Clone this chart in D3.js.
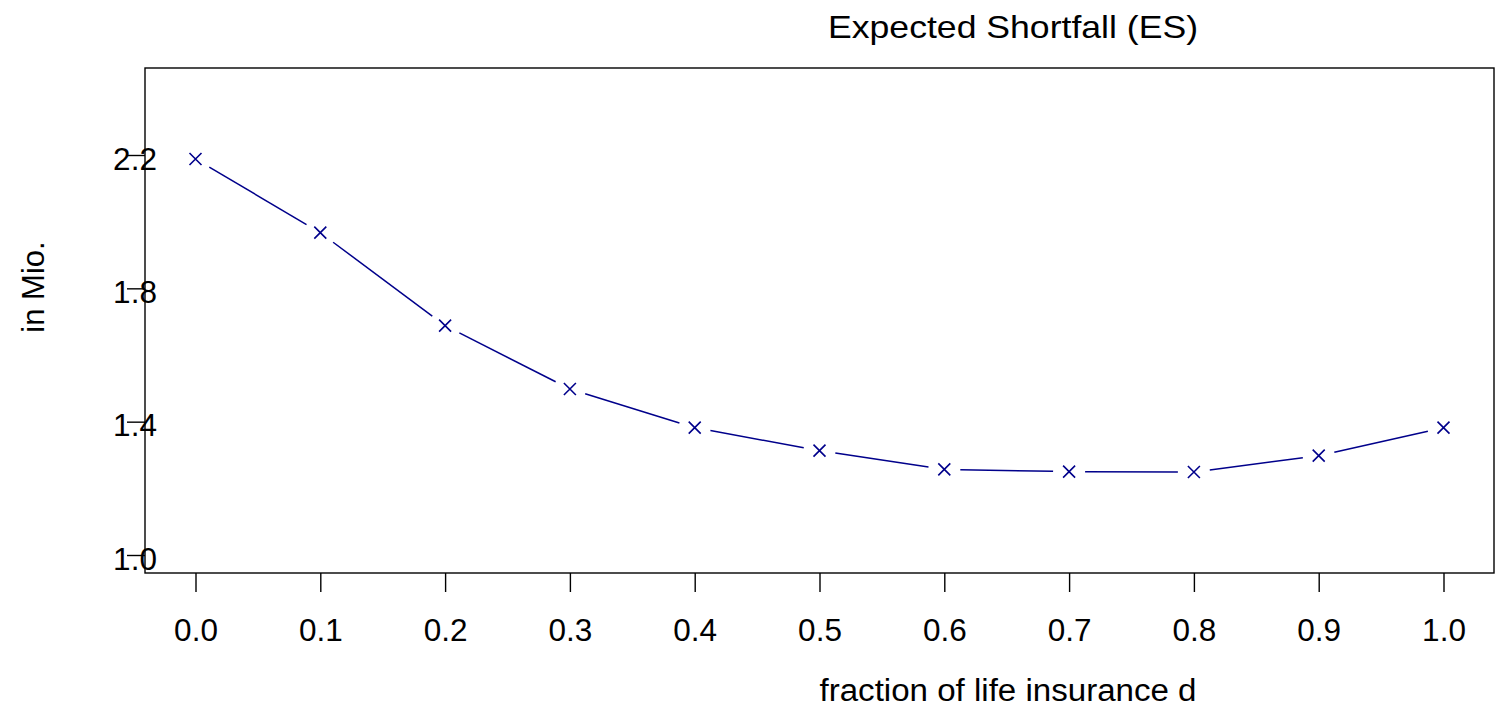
<!DOCTYPE html>
<html>
<head>
<meta charset="utf-8">
<script src="https://cdn.jsdelivr.net/npm/d3@7"></script>
<style>
  html, body { margin: 0; padding: 0; background: #fff; }
  svg { display: block; font-family: "Liberation Sans", Arial, sans-serif; }
</style>
</head>
<body>
<svg id="chart" width="1507" height="713"></svg>
<script>
// Fraction of life insurance in the portfolio
const fractions = [0.0, 0.1, 0.2, 0.3, 0.4, 0.5, 0.6, 0.7, 0.8, 0.9, 1.0];
// Expected Shortfall, in millions
const esValues = [2.188, 1.967, 1.688, 1.498, 1.382, 1.313, 1.257, 1.250, 1.249, 1.298, 1.382];
const xTicks = [0.0, 0.1, 0.2, 0.3, 0.4, 0.5, 0.6, 0.7, 0.8, 0.9, 1.0];
const yTicks = [1.0, 1.4, 1.8, 2.2];

const svg = d3.select("#chart");
const box = { left: 145, right: 1494, top: 68, bottom: 573 };

const x = d3.scaleLinear().domain([0, 1]).range([195.5, 1443.5]);
const y = d3.scaleLinear().domain([1.0, 2.2]).range([555, 155]);

const ink = "#000";
const navy = "#00008b";
const font = "Liberation Sans, Arial, sans-serif";

// plot frame
svg.append("rect")
  .attr("x", box.left).attr("y", box.top)
  .attr("width", box.right - box.left).attr("height", box.bottom - box.top)
  .attr("fill", "none").attr("stroke", ink).attr("stroke-width", 1.4);

// x axis
const xAxis = svg.append("g").attr("transform", `translate(0,${box.bottom})`)
  .call(d3.axisBottom(x).tickValues(xTicks).tickFormat(d3.format(".1f"))
    .tickSize(19).tickPadding(27));
xAxis.select(".domain").remove();
xAxis.selectAll(".tick line").attr("stroke", ink).attr("stroke-width", 1.4);
xAxis.selectAll(".tick text").attr("fill", ink)
  .style("font-size", "31.5px").style("font-family", font);

// y axis: ticks left of the frame, labels drawn over the ticks
const yAxis = svg.append("g").attr("transform", `translate(${box.left},0)`)
  .call(d3.axisLeft(y).tickValues(yTicks).tickFormat(d3.format(".1f"))
    .tickSize(18).tickPadding(0));
yAxis.select(".domain").remove();
yAxis.selectAll(".tick line").attr("stroke", ink).attr("stroke-width", 1.4);
yAxis.selectAll(".tick text").attr("fill", ink)
  .attr("x", -10).attr("dy", "0.45em").attr("text-anchor", "middle")
  .style("font-size", "31.5px").style("font-family", font);

// connecting segments with gaps around markers
const pts = fractions.map((f, i) => [x(f), y(esValues[i])]);
const gap = 16;
const segs = [];
for (let i = 0; i < pts.length - 1; i++) {
  const [x0, y0] = pts[i], [x1, y1] = pts[i + 1];
  const dx = x1 - x0, dy = y1 - y0, len = Math.hypot(dx, dy);
  if (len <= 2 * gap) continue;
  const ux = dx / len, uy = dy / len;
  segs.push([[x0 + ux * gap, y0 + uy * gap], [x1 - ux * gap, y1 - uy * gap]]);
}
svg.append("g").selectAll("line").data(segs).join("line")
  .attr("x1", d => d[0][0]).attr("y1", d => d[0][1])
  .attr("x2", d => d[1][0]).attr("y2", d => d[1][1])
  .attr("stroke", navy).attr("stroke-width", 1.5);

// cross markers
const s = 6;
svg.append("g").selectAll("path").data(pts).join("path")
  .attr("d", d => `M${d[0]-s},${d[1]-s}L${d[0]+s},${d[1]+s}M${d[0]-s},${d[1]+s}L${d[0]+s},${d[1]-s}`)
  .attr("stroke", navy).attr("stroke-width", 1.6).attr("fill", "none");

// titles
svg.append("text").attr("x", 1013).attr("y", 38).attr("text-anchor", "middle")
  .attr("fill", ink).style("font-size", "32px")
  .attr("textLength", 370).attr("lengthAdjust", "spacingAndGlyphs")
  .text("Expected Shortfall (ES)");
svg.append("text").attr("x", 1008).attr("y", 701).attr("text-anchor", "middle")
  .attr("fill", ink).style("font-size", "31px")
  .attr("textLength", 377).attr("lengthAdjust", "spacingAndGlyphs")
  .text("fraction of life insurance d");
svg.append("text").attr("transform", "translate(44,287) rotate(-90)").attr("text-anchor", "middle")
  .attr("fill", ink).style("font-size", "31px").text("in Mio.");
</script>
</body>
</html>
